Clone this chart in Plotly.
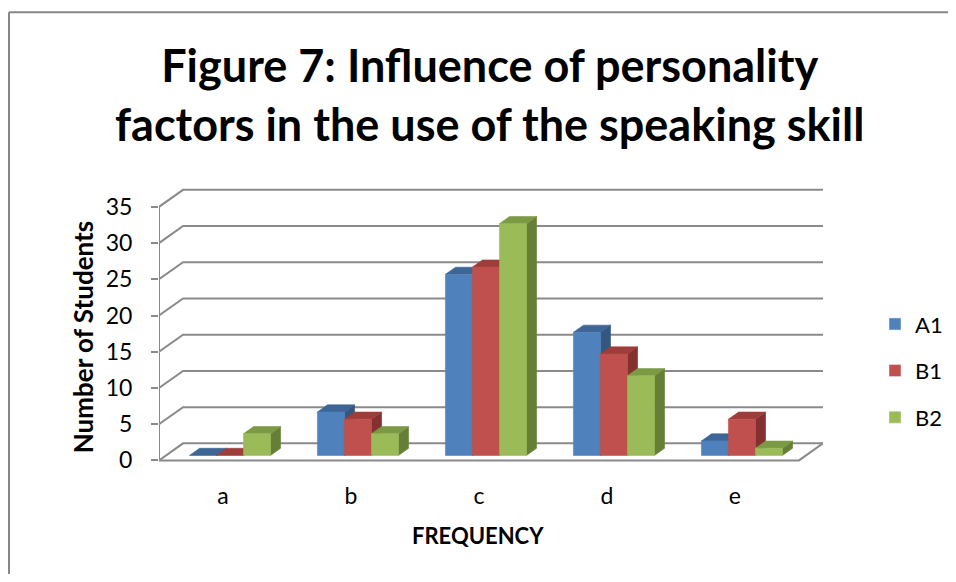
import plotly.graph_objects as go

# ---------------- data ----------------
categories = ['a', 'b', 'c', 'd', 'e']
series_names = ['A1', 'B1', 'B2']
A1 = [0, 6, 25, 17, 2]
B1 = [0, 5, 26, 14, 5]
B2 = [3, 3, 32, 11, 1]
y_ticks = [0, 5, 10, 15, 20, 25, 30, 35]

series_values = [A1, B1, B2]
front_colors = ['#4F81BD', '#C0504D', '#9BBB59']
top_colors = ['#3D6596', '#9E3D3A', '#7C9A44']
side_colors = ['#34577F', '#83302E', '#667F36']

# ---------------- geometry ----------------
OFF = 8                       # page body margin
W, H = 956 - OFF, 582 - 2 * OFF
L, T = 159 - OFF, 188 - OFF
R = W - (823 - OFF)
B = H - (463.6 - OFF)
PW, PH = W - L - R, H - T - B
DX, DY = 0.188, 2.35          # floor depth (data units)
F1, F2 = 0.29, 0.71           # bar depth span (fraction of floor depth)
BW = 0.211                    # bar width
XR = [-0.5, len(categories) - 0.5 + DX]
YR = [-0.5, 37.6]
GRID = '#8a8a8a'


def sx(p):
    return (p - OFF - L) / PW


def sy(p):
    return 1 - (p - OFF - T) / PH


fig = go.Figure()


def line(xs, ys, color=GRID, width=2):
    fig.add_trace(go.Scatter(x=xs, y=ys, mode='lines', line=dict(color=color, width=width),
                             hoverinfo='skip', showlegend=False, cliponaxis=False))


def poly(xs, ys, color):
    fig.add_trace(go.Scatter(x=xs + [xs[0]], y=ys + [ys[0]], mode='lines', fill='toself',
                             fillcolor=color, line=dict(color=color, width=0.6),
                             hoverinfo='skip', showlegend=False, cliponaxis=False))


x_left, x_right = -0.5, len(categories) - 0.5
# back wall gridlines with diagonal on the left side
for v in y_ticks:
    line([x_left, x_left + DX, x_right + DX], [v, v + DY, v + DY])
# floor front edge + right edge
line([x_left, x_right, x_right + DX], [0, 0, DY])
# front vertical axis
line([x_left, x_left], [0, y_ticks[-1]])

# bars (3D columns)
bdx, bdy = (F2 - F1) * DX, (F2 - F1) * DY
for i, cat in enumerate(categories):
    for j, vals in enumerate(series_values):
        v = vals[i]
        xl = i - 1.5 * BW + j * BW + F1 * DX
        xr = xl + BW
        yb = F1 * DY
        yt = v + F1 * DY
        # right side face
        poly([xr, xr + bdx, xr + bdx, xr], [yb, yb + bdy, yt + bdy, yt], side_colors[j])
        # top face
        poly([xl, xr, xr + bdx, xl + bdx], [yt, yt, yt + bdy, yt + bdy], top_colors[j])
        # front face
        if v > 0:
            poly([xl, xr, xr, xl], [yb, yb, yt, yt], front_colors[j])

# legend entries
for j, name in enumerate(series_names):
    fig.add_trace(go.Bar(x=[None], y=[None], name=name, marker_color=front_colors[j],
                         legendgroup=name))

BORDER = dict(color='#878787', width=2)
fig.update_layout(
    width=W, height=H,
    margin=dict(l=L, r=R, t=T, b=B, autoexpand=False),
    paper_bgcolor='white', plot_bgcolor='white',
    font=dict(family='Lato', color='black'),
    showlegend=True,
    legend=dict(x=sx(875), y=sy(303), xanchor='left', yanchor='top',
                font=dict(size=22, family='Lato'), tracegroupgap=15,
                bgcolor='rgba(0,0,0,0)', itemclick=False),
    xaxis=dict(range=XR, type='linear', showgrid=False, zeroline=False, showline=False,
               tickmode='array', tickvals=list(range(len(categories))), ticktext=categories,
               ticks='', tickfont=dict(size=23), ticklabelstandoff=16),
    yaxis=dict(range=YR, type='linear', showgrid=False, zeroline=False, showline=False,
               tickmode='array', tickvals=y_ticks, ticktext=[str(v) for v in y_ticks],
               ticks='outside', ticklen=7, tickwidth=2, tickcolor=GRID,
               tickfont=dict(size=23), ticklabelstandoff=14),
    annotations=[
        dict(text='<b>Figure 7: Influence of personality<br>factors in the use of the speaking skill</b>',
             xref='paper', yref='paper', x=sx(489), y=sy(95), xanchor='center', yanchor='middle',
             showarrow=False, font=dict(size=45, family='Lato')),
        dict(text='<b>Number of Students</b>', textangle=-90,
             xref='paper', yref='paper', x=sx(83), y=sy(337), xanchor='center', yanchor='middle',
             showarrow=False, font=dict(size=26, family='Lato')),
        dict(text='<b>FREQUENCY</b>',
             xref='paper', yref='paper', x=sx(478), y=sy(535), xanchor='center', yanchor='middle',
             showarrow=False, font=dict(size=22, family='Lato')),
    ],
    shapes=[
        dict(type='line', xref='paper', yref='paper', x0=sx(9), y0=sy(12.5), x1=sx(1000), y1=sy(12.5),
             line=BORDER, layer='below'),
        dict(type='line', xref='paper', yref='paper', x0=sx(9), y0=sy(12.5), x1=sx(9), y1=sy(620),
             line=BORDER, layer='below'),
    ],
)

fig.write_html('out.html')
